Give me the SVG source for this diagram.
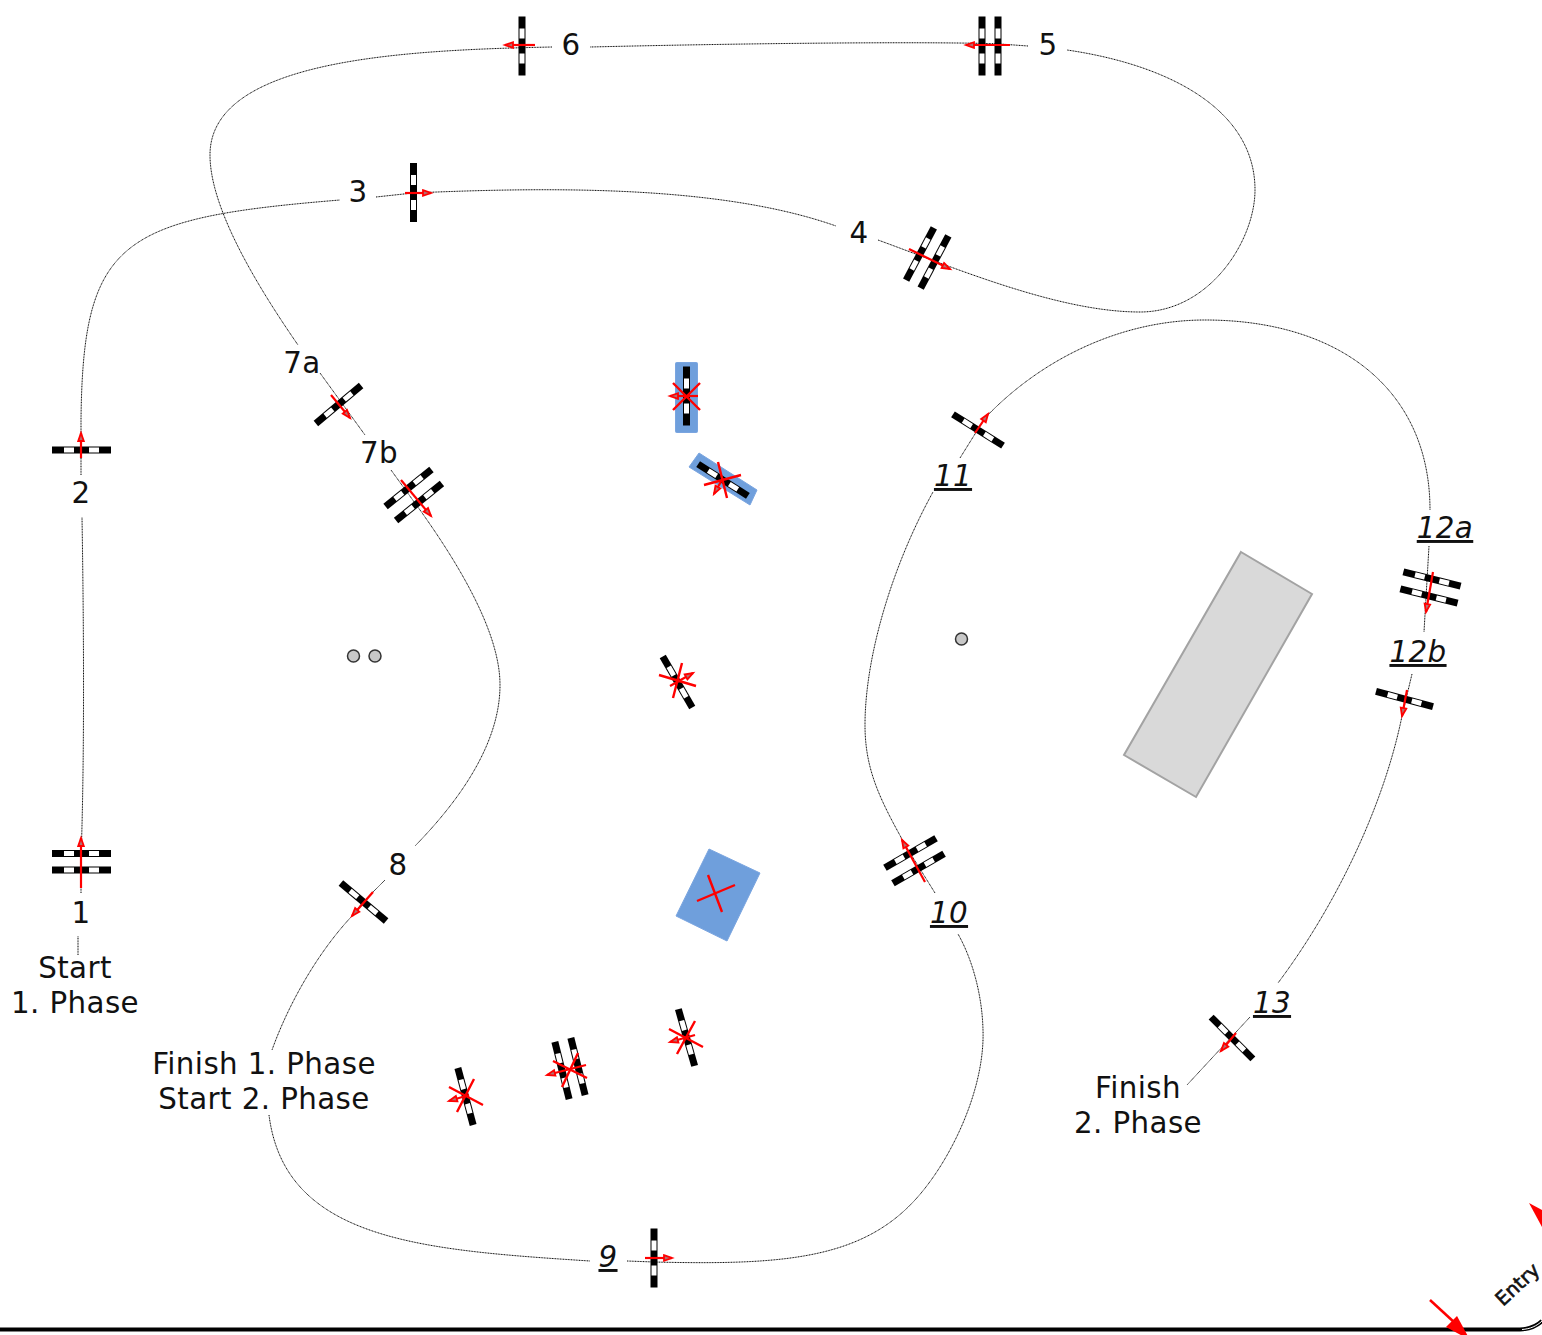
<svg xmlns="http://www.w3.org/2000/svg" width="1542" height="1335" viewBox="0 0 1542 1335">
<style>
text{font-family:"DejaVu Sans",Verdana,sans-serif;font-size:29.33px;fill:#111;text-anchor:middle;letter-spacing:.4px}
.i{font-style:italic;text-decoration:underline}
.c{fill:none;stroke:#000;stroke-width:1;stroke-dasharray:1 .6}
.a{stroke:#f00;stroke-width:2.200;fill:none;marker-end:url(#ah)}
.x{stroke:#f00;stroke-width:2.400;fill:none}
.o{fill:#c8c8c8;stroke:#333;stroke-width:1.500}
.b{fill:#6f9fdc;stroke:#7aa5e0;stroke-width:1}
</style>
<defs>
<marker id="ah" markerUnits="userSpaceOnUse" markerWidth="14" markerHeight="12" refX="10" refY="6" orient="auto"><path d="M2,3.200L10,6L2,8.800Z" fill="#b07070" stroke="#f00" stroke-width="1.800"/></marker>
<g id="bar"><rect x="-29.500" y="-3.500" width="59" height="7" fill="#000"/><rect x="-17.500" y="-2.500" width="10" height="5" fill="#fff"/><rect x="7.500" y="-2.500" width="10" height="5" fill="#fff"/></g>
</defs>
<g id="connectors">
<path class="c" d="M78,955L78,936"/>
<path class="c" d="M81,893L81,860C83,800 85,700 82,517"/>
<path class="c" d="M81,475L81,420C83,240 120,218 340,200"/>
<path class="c" d="M376,197L413,193C550,187 720,185 836,226"/>
<path class="c" d="M878,240C960,270 1060,312 1140,312C1210,312 1255,240 1255,190C1255,110 1170,65 1067,50"/>
<path class="c" d="M1028,46L1000,44C960,42 800,42 590,47"/>
<path class="c" d="M552,47C400,50 210,60 210,155C210,210 260,290 298,345"/>
<path class="c" d="M320,373L365,435"/>
<path class="c" d="M391,470L420,510C470,580 500,640 500,685C500,750 450,810 415,846"/>
<path class="c" d="M385,880L363,902L352,916C320,950 290,1000 272,1050"/>
<path class="c" d="M269,1115C285,1240 420,1250 590,1261"/>
<path class="c" d="M627,1261L654,1262C780,1265 860,1260 915,1200C950,1162 985,1090 983,1030C982,990 970,955 958,934"/>
<path class="c" d="M935,893L907,848C880,800 865,770 865,725C865,660 890,570 933,492"/>
<path class="c" d="M960,458L985,418C1040,360 1120,320 1205,320C1340,320 1430,390 1430,510"/>
<path class="c" d="M1429,546L1424,632"/>
<path class="c" d="M1412,674L1402,716C1385,800 1340,900 1278,983"/>
<path class="c" d="M1250,1017L1187,1085"/>
</g>
<g id="obstacles">
<rect class="b" x="675.500" y="362.500" width="22" height="70" rx="1"/>
<polygon class="b" points="699,453 689,467 750,505 757,490"/>
<polygon class="b" points="709,849 760,873 727,941 676,916"/>
<polygon points="1241,552 1312,594 1196,797 1124,755" fill="#d9d9d9" stroke="#a3a3a3" stroke-width="2"/>
<circle class="o" cx="353.500" cy="656" r="6"/><circle class="o" cx="375" cy="656" r="6"/><circle class="o" cx="961.500" cy="639" r="6"/>
</g>
<g id="gate1"><use href="#bar" transform="translate(81.500,853.500)"/><use href="#bar" transform="translate(81.500,870)"/><path class="a" d="M81,888L81,838"/></g>
<g id="gate2"><use href="#bar" transform="translate(81.500,450)"/><path class="a" d="M81,458L81,433"/></g>
<g id="gate3"><use href="#bar" transform="translate(413.500,192.500) rotate(90)"/><path class="a" d="M405,193L431,193"/></g>
<g id="gate4"><use href="#bar" transform="translate(920,254) rotate(-62)"/><use href="#bar" transform="translate(934.500,262) rotate(-62)"/><path class="a" d="M909,249L950,269"/></g>
<g id="gate5"><use href="#bar" transform="translate(982,46) rotate(90)"/><use href="#bar" transform="translate(998,46) rotate(90)"/><path class="a" d="M1010,45L966,45"/></g>
<g id="gate6"><use href="#bar" transform="translate(522,46) rotate(90)"/><path class="a" d="M535,45L505,45"/></g>
<g id="gate7a"><use href="#bar" transform="translate(338.500,404.500) rotate(-40)"/><path class="a" d="M331,395L350,418"/></g>
<g id="gate7b"><use href="#bar" transform="translate(408.500,488) rotate(-39)"/><use href="#bar" transform="translate(419,502) rotate(-39)"/><path class="a" d="M401,480L431,516"/></g>
<g id="gate8"><use href="#bar" transform="translate(363.500,902) rotate(40)"/><path class="a" d="M373,892L352,916"/></g>
<g id="gate9"><use href="#bar" transform="translate(654,1258) rotate(90)"/><path class="a" d="M645,1258L672,1258"/></g>
<g id="gate10"><use href="#bar" transform="translate(910.500,853) rotate(-30)"/><use href="#bar" transform="translate(918.500,868.500) rotate(-30)"/><path class="a" d="M925,882L902,840"/></g>
<g id="gate11"><use href="#bar" transform="translate(978,430) rotate(32)"/><path class="a" d="M975,433L988,414"/></g>
<g id="gate12a"><use href="#bar" transform="translate(1432,579) rotate(14)"/><use href="#bar" transform="translate(1429,596) rotate(14)"/><path class="a" d="M1433,572L1426,612"/></g>
<g id="gate12b"><use href="#bar" transform="translate(1404.500,699) rotate(15)"/><path class="a" d="M1407,690L1402,716"/></g>
<g id="gate13"><use href="#bar" transform="translate(1232,1038) rotate(45)"/><path class="a" d="M1236,1033L1221,1051"/></g>
<g id="crossA"><use href="#bar" transform="translate(686.500,396) rotate(90)"/><path class="x" d="M673,383L700,410M700,383L673,410"/><path class="a" d="M698,396L670,396"/></g>
<g id="crossB"><use href="#bar" transform="translate(723,480) rotate(32.500)"/><path class="x" d="M718,462L727,498M704,485L741,475"/><path class="a" d="M723,478L714,494"/></g>
<g id="crossC"><use href="#bar" transform="translate(677.500,682) rotate(60)"/><path class="x" d="M682,663L673,698M659,675L696,686"/><path class="a" d="M670,686L693,673"/></g>
<g id="crossD"><path class="x" d="M697,901L735,885M708,875L722,912"/></g>
<g id="crossE"><use href="#bar" transform="translate(686.500,1037.500) rotate(74)"/><path class="x" d="M669,1029L703,1047M695,1021L677,1054"/><path class="a" d="M695,1035L670,1042"/></g>
<g id="crossF"><use href="#bar" transform="translate(562,1070.500) rotate(76)"/><use href="#bar" transform="translate(578,1066.500) rotate(76)"/><path class="x" d="M553,1061L587,1078M578,1053L562,1087"/><path class="a" d="M586,1065L547,1075"/></g>
<g id="crossG"><use href="#bar" transform="translate(465.500,1096.500) rotate(75)"/><path class="x" d="M449,1087L483,1105M474,1079L457,1112"/><path class="a" d="M469,1095L449,1101"/></g>
<g id="entry">
<path d="M0,1329.500L1520,1329.500C1530,1329 1537,1326 1542,1321" fill="none" stroke="#000" stroke-width="4"/>
<path d="M1522,1329.500C1530,1329 1537,1326 1542,1321" fill="none" stroke="#fff" stroke-width="1"/>
<path d="M1430,1300L1455,1323" stroke="#f00" stroke-width="2.500" fill="none"/>
<polygon points="1457,1316 1446,1327 1470,1340" fill="#f00"/>
<polygon points="1529,1203 1542,1210 1542,1227" fill="#f00"/>
<text transform="translate(1503,1307) rotate(-43)" style="font-size:19.500px;stroke:#111;stroke-width:.6;text-anchor:start;letter-spacing:0">Entry</text>
</g>
<g id="labels">
<text x="571" y="55">6</text><text x="1048" y="55">5</text><text x="358" y="202">3</text><text x="859" y="243">4</text>
<text x="302" y="373">7a</text><text x="379" y="463">7b</text><text x="398" y="875">8</text><text x="81" y="503">2</text><text x="81" y="923">1</text>
<text x="75" y="978">Start</text><text x="75" y="1013">1. Phase</text>
<text x="264" y="1074">Finish 1. Phase</text><text x="264" y="1109">Start 2. Phase</text>
<text class="i" x="608" y="1267">9</text><text class="i" x="949" y="923">10</text><text class="i" x="953" y="486">11</text>
<text class="i" x="1445" y="538">12a</text><text class="i" x="1418" y="662">12b</text><text class="i" x="1272" y="1013">13</text>
<text x="1138" y="1098">Finish</text><text x="1138" y="1133">2. Phase</text>
</g>
</svg>
